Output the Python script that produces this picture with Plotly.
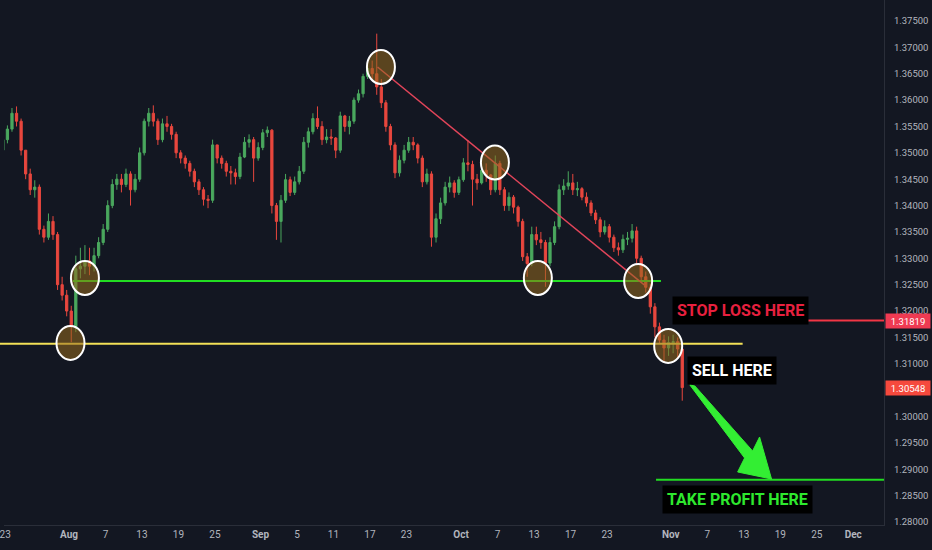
import pandas as pd
import plotly.graph_objects as go

# GBPUSD, two candles per session, 22 Jul - 4 Nov 2025
first_open = 1.3490
close = [
    1.3505, 1.3525,  1.3545, 1.3575,  1.3560, 1.3505,  1.3460, 1.3430,   # Jul 22-25
    1.3435, 1.3355,  1.3340, 1.3370,  1.3345, 1.3250,  1.3230, 1.3200,  1.3170, 1.3280,  # Jul 28 - Aug 1
    1.3285, 1.3295,  1.3285, 1.3305,  1.3330, 1.3355,  1.3400, 1.3440,  1.3450, 1.3440,  # Aug 4-8
    1.3460, 1.3430,  1.3450, 1.3500,  1.3560, 1.3575,  1.3560, 1.3525,  1.3555, 1.3550,  # Aug 11-15
    1.3535, 1.3500,  1.3490, 1.3480,  1.3465, 1.3445,  1.3430, 1.3412,  1.3410, 1.3515,  # Aug 18-22
    1.3490, 1.3480,  1.3465, 1.3462,  1.3455, 1.3492,  1.3520, 1.3525,  1.3490, 1.3510,  # Aug 25-29
    1.3538, 1.3543,  1.3400, 1.3370,  1.3410, 1.3449,  1.3425, 1.3445,  1.3465, 1.3520,  # Sep 1-5
    1.3540, 1.3565,  1.3550, 1.3525,  1.3530, 1.3528,  1.3505, 1.3570,  1.3550, 1.3560,  # Sep 8-12
    1.3600, 1.3612,  1.3645, 1.3660,  1.3650, 1.3625,  1.3595, 1.3550,  1.3515, 1.3462,  # Sep 15-19
    1.3486, 1.3505,  1.3520, 1.3515,  1.3490, 1.3445,  1.3460, 1.3340,  1.3375, 1.3405,  # Sep 22-26
    1.3435, 1.3443,  1.3425, 1.3449,  1.3481, 1.3478,  1.3450, 1.3443,  1.3467, 1.3458,  # Sep 29 - Oct 3
    1.3430, 1.3480,  1.3430, 1.3400,  1.3416, 1.3397,  1.3370, 1.3303,  1.3290, 1.3345,  # Oct 6-10
    1.3335, 1.3330,  1.3291, 1.3330,  1.3360, 1.3430,  1.3437, 1.3443,  1.3430, 1.3432,  # Oct 13-17
    1.3416, 1.3405,  1.3386, 1.3373,  1.3350, 1.3360,  1.3340, 1.3320,  1.3316, 1.3336,  # Oct 20-24
    1.3338, 1.3352,  1.3300, 1.3265,  1.3245, 1.3208,  1.3170, 1.3145,  1.3130, 1.3140,  # Oct 27-31
    1.3142, 1.3128,  1.30548,  # Nov 3-4
]
high = [
    1.3512, 1.3535,  1.3552, 1.3585,  1.3588, 1.3565,  1.3505, 1.3470,
    1.3448, 1.3440,  1.3362, 1.3385,  1.3380, 1.3350,  1.3265, 1.3240,  1.3210, 1.3305,
    1.3320, 1.3325,  1.3320, 1.3320,  1.3340, 1.3365,  1.3410, 1.3450,  1.3460, 1.3460,
    1.3470, 1.3465,  1.3460, 1.3510,  1.3565, 1.3585,  1.3590, 1.3565,  1.3565, 1.3570,
    1.3555, 1.3540,  1.3505, 1.3495,  1.3485, 1.3470,  1.3450, 1.3435,  1.3420, 1.3525,
    1.3515, 1.3495,  1.3485, 1.3475,  1.3470, 1.3500,  1.3530, 1.3535,  1.3530, 1.3520,
    1.3545, 1.3550,  1.3545, 1.3405,  1.3420, 1.3460,  1.3455, 1.3455,  1.3475, 1.3530,
    1.3548, 1.3575,  1.3588, 1.3560,  1.3545, 1.3545,  1.3530, 1.3578,  1.3572, 1.3570,
    1.3605, 1.3620,  1.3650, 1.3670,  1.3675, 1.3726,  1.3640, 1.3600,  1.3555, 1.3520,
    1.3495, 1.3515,  1.3530, 1.3530,  1.3518, 1.3495,  1.3470, 1.3465,  1.3385, 1.3415,
    1.3445, 1.3455,  1.3448, 1.3455,  1.3490, 1.3524,  1.3485, 1.3460,  1.3475, 1.3480,
    1.3460, 1.3495,  1.3485, 1.3435,  1.3425, 1.3420,  1.3400, 1.3375,  1.3310, 1.3360,
    1.3360, 1.3350,  1.3335, 1.3340,  1.3370, 1.3440,  1.3450, 1.3465,  1.3460, 1.3445,
    1.3435, 1.3425,  1.3410, 1.3392,  1.3378, 1.3372,  1.3365, 1.3345,  1.3330, 1.3345,
    1.3350, 1.3365,  1.3360, 1.3305,  1.3275, 1.3252,  1.3215, 1.3178,  1.3155, 1.3152,
    1.3155, 1.3150,  1.3135,
]
low = [
    1.3485, 1.3500,  1.3518, 1.3540,  1.3550, 1.3495,  1.3450, 1.3420,
    1.3415, 1.3345,  1.3330, 1.3335,  1.3335, 1.3240,  1.3220, 1.3190,  1.3141, 1.3160,
    1.3262, 1.3270,  1.3268, 1.3275,  1.3300, 1.3325,  1.3350, 1.3395,  1.3430, 1.3425,
    1.3435, 1.3400,  1.3425, 1.3445,  1.3495, 1.3550,  1.3550, 1.3515,  1.3520, 1.3540,
    1.3525, 1.3490,  1.3480, 1.3470,  1.3455, 1.3435,  1.3420, 1.3400,  1.3395, 1.3405,
    1.3480, 1.3470,  1.3455, 1.3440,  1.3440, 1.3450,  1.3490, 1.3510,  1.3445, 1.3485,
    1.3505, 1.3530,  1.3385, 1.3335,  1.3330, 1.3405,  1.3418, 1.3420,  1.3440, 1.3460,
    1.3510, 1.3535,  1.3545, 1.3515,  1.3518, 1.3515,  1.3490, 1.3500,  1.3540, 1.3535,
    1.3555, 1.3595,  1.3605, 1.3640,  1.3640, 1.3610,  1.3585, 1.3540,  1.3505, 1.3452,
    1.3455, 1.3480,  1.3500, 1.3505,  1.3480, 1.3435,  1.3440, 1.3322,  1.3330, 1.3365,
    1.3400, 1.3425,  1.3415, 1.3420,  1.3445, 1.3465,  1.3400, 1.3430,  1.3440, 1.3445,
    1.3420, 1.3425,  1.3420, 1.3390,  1.3390, 1.3385,  1.3360, 1.3295,  1.3265, 1.3285,
    1.3325, 1.3318,  1.3246, 1.3285,  1.3325, 1.3355,  1.3420, 1.3430,  1.3420, 1.3418,
    1.3410, 1.3398,  1.3380, 1.3365,  1.3340, 1.3345,  1.3330, 1.3312,  1.3305, 1.3310,
    1.3325, 1.3330,  1.3290, 1.3255,  1.3235, 1.3195,  1.3150, 1.3138,  1.3102, 1.3115,
    1.3120, 1.3110,  1.3030,
]
assert len(close) == len(high) == len(low)

opens = [first_open] + close[:-1]
days = pd.bdate_range("2025-07-22", "2025-11-04")
times = []
for d in days:
    times += [d + pd.Timedelta(hours=6), d + pd.Timedelta(hours=18)]
times = times[:len(close)]

# drawing levels
stop_loss = 1.31819
take_profit = 1.2880
support_green = 1.3257
support_yellow = 1.3138
trend_start = ("2025-09-17 20:00", 1.36628)
trend_end = ("2025-10-29 02:00", 1.32495)
circles = [
    ("2025-08-01 04:00", 1.31395),
    ("2025-08-04 18:00", 1.32627),
    ("2025-09-18 05:00", 1.36628),
    ("2025-10-06 17:00", 1.34817),
    ("2025-10-13 10:00", 1.32627),
    ("2025-10-28 10:00", 1.32570),
    ("2025-10-31 17:00", 1.31338),
]

tick_dates = ["2025-07-23", "2025-08-01", "2025-08-07", "2025-08-13", "2025-08-19", "2025-08-25",
              "2025-09-01", "2025-09-05", "2025-09-11", "2025-09-17", "2025-09-23",
              "2025-10-01", "2025-10-07", "2025-10-13", "2025-10-17", "2025-10-23",
              "2025-11-03", "2025-11-07", "2025-11-13", "2025-11-19", "2025-11-25", "2025-12-01"]
tick_text = ["23", "<b>Aug</b>", "7", "13", "19", "25",
             "<b>Sep</b>", "5", "11", "17", "23",
             "<b>Oct</b>", "7", "13", "17", "23",
             "<b>Nov</b>", "7", "13", "19", "25", "<b>Dec</b>"]

BG = "#131722"
UP = "#4aa85e"
DOWN = "#e8473e"
PLOT_W, PLOT_H = 884, 525


def px(x, y):
    # pixel position inside plot area -> paper coords
    return x / PLOT_W, 1 - y / PLOT_H


fig = go.Figure(go.Candlestick(
    x=times, open=opens, high=high, low=low, close=close,
    increasing=dict(line=dict(color=UP, width=1), fillcolor=UP),
    decreasing=dict(line=dict(color=DOWN, width=1), fillcolor=DOWN),
    showlegend=False, hoverinfo="skip",
))

shapes = []
# horizontal levels
x1_yellow, _ = px(742, 0)
shapes.append(dict(type="line", xref="paper", yref="y", x0=-0.01, x1=x1_yellow,
                   y0=support_yellow, y1=support_yellow, line=dict(color="#f3e157", width=2)))
shapes.append(dict(type="line", xref="x", yref="y", x0="2025-08-01 10:00", x1="2025-10-30 22:00",
                   y0=support_green, y1=support_green, line=dict(color="#22dd22", width=2)))
shapes.append(dict(type="line", xref="paper", yref="y", x0=px(675, 0)[0], x1=1,
                   y0=stop_loss, y1=stop_loss, line=dict(color="#f23645", width=2)))
shapes.append(dict(type="line", xref="paper", yref="y", x0=px(655, 0)[0], x1=1,
                   y0=take_profit, y1=take_profit, line=dict(color="#22dd22", width=2)))
# trend line
shapes.append(dict(type="line", xref="x", yref="y", x0=trend_start[0], y0=trend_start[1],
                   x1=trend_end[0], y1=trend_end[1], line=dict(color="#e2455a", width=1.5)))
# touch circles
for cx, cy in circles:
    shapes.append(dict(type="circle", xref="x", yref="y", xsizemode="pixel", ysizemode="pixel",
                       xanchor=cx, yanchor=cy, x0=-14, x1=14, y0=-17, y1=17,
                       fillcolor="rgba(150,105,30,0.55)", line=dict(color="white", width=2)))
# big green arrow
arrow_px = [(689, 385), (694, 386), (752, 451), (759, 437), (771, 479), (737, 472), (744, 458)]
path = "M " + " L ".join("%.4f,%.4f" % px(x, y) for x, y in arrow_px) + " Z"
shapes.append(dict(type="path", xref="paper", yref="paper", path=path,
                   fillcolor="#33ee33", line=dict(color="#33ee33", width=1)))

annotations = []
for text, color, (cx, cy) in [("STOP LOSS HERE", "#e8203f", (740, 310)),
                              ("SELL HERE", "white", (731, 370)),
                              ("TAKE PROFIT HERE", "#2ee82e", (737, 499))]:
    ax, ay = px(cx, cy)
    annotations.append(dict(xref="paper", yref="paper", x=ax, y=ay, xanchor="center", yanchor="middle",
                            text="<b>%s</b>" % text, showarrow=False, bgcolor="black", borderpad=4,
                            font=dict(family="Roboto", size=16, color=color)))
# price scale flags
for price, col in [(stop_loss, "#ef3a52"), (close[-1], "#f5493d")]:
    annotations.append(dict(xref="paper", yref="y", x=1, y=price, xanchor="left", xshift=1,
                            text="%.5f" % price, showarrow=False, bgcolor=col, width=42, height=12,
                            font=dict(family="Roboto", size=9.5, color="white")))

fig.update_layout(
    width=932, height=550,
    margin=dict(l=0, r=48, t=0, b=25),
    paper_bgcolor=BG, plot_bgcolor=BG,
    shapes=shapes, annotations=annotations,
    font=dict(family="Roboto", color="#b2b5be"),
    xaxis=dict(
        type="date", range=["2025-07-22 21:00", "2025-12-04 09:00"],
        rangebreaks=[dict(bounds=["sat", "mon"])],
        rangeslider=dict(visible=False),
        tickvals=tick_dates, ticktext=tick_text, tickfont=dict(size=10, color="#b2b5be"),
        ticklabeloverflow="allow",
        showgrid=False, zeroline=False, showline=True, linecolor="#2a2e39", ticks="",
    ),
    yaxis=dict(
        side="right", range=[1.27943, 1.37898], tick0=1.28, dtick=0.005, tickformat=".5f",
        tickfont=dict(size=9.5, color="#b2b5be"), ticklabelstandoff=7,
        showgrid=False, zeroline=False, showline=True, linecolor="#2a2e39", ticks="",
    ),
)

fig.write_html("out.html", config={"displayModeBar": False},
               post_script="document.body.style.margin='0';")
